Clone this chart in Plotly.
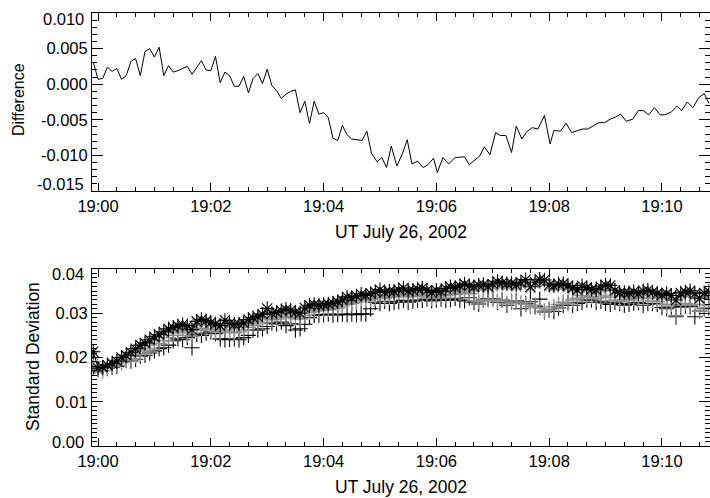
import pandas as pd
import plotly.graph_objects as go

# ---------------- data ----------------
BASE = "2002-07-26 19:00:00"

# top panel: seconds after 19:00 and difference values
DIFF_T = [-5, 0, 5, 10, 15, 20, 25, 30, 35, 40, 45, 50, 55, 60, 65, 70, 75, 80, 85, 90,
          95, 100, 105, 110, 115, 120, 125, 130, 135, 140, 145, 150, 155, 160, 165, 170,
          175, 180, 185, 190, 195, 200, 205, 210, 215, 220, 225, 230, 235, 240, 245, 250,
          255, 260, 265, 270,
          281, 286, 291, 297, 302, 307, 312, 318, 324, 329, 334, 340, 346, 351, 357, 361,
          367, 373, 380, 385, 390, 395, 400, 406, 411, 417, 423, 428, 434, 440, 445, 451,
          456, 462, 468, 475, 481, 485, 492, 498, 504, 509, 515, 521, 527, 533, 539, 545,
          551, 556, 562, 569, 575, 580, 586, 592, 598, 603, 610, 616, 621, 627, 633, 639,
          645, 650]
DIFF = [0.0031, 0.0007, 0.0008, 0.0024, 0.0018, 0.0022, 0.0007, 0.0012, 0.0032, 0.0036,
        0.0012, 0.0046, 0.0050, 0.0038, 0.0052, 0.0012, 0.0026, 0.0017, 0.0019, 0.0022,
        0.0025, 0.0014, 0.0023, 0.0033, 0.0020, 0.0019, 0.0039, 0.0002, 0.0017, 0.0012,
        -0.0003, -0.0003, 0.0011, -0.0012, 0.0008, 0.0015, 0.0001, 0.0021, -0.0002, -0.0009,
        -0.0020, -0.0014, -0.0010, -0.0008, -0.0040, -0.0024, -0.0055, -0.0024, -0.0042, -0.0040,
        -0.0047, -0.0076, -0.0079, -0.0058, -0.0071, -0.0077,
        -0.0079, -0.0066, -0.0097, -0.0109, -0.0103, -0.0117, -0.0087, -0.0115, -0.0097, -0.0078,
        -0.0112, -0.0108, -0.0117, -0.0113, -0.0104, -0.0124, -0.0103, -0.0112, -0.0103, -0.0102,
        -0.0102, -0.0113, -0.0107, -0.0101, -0.0088, -0.0099, -0.0068, -0.0072, -0.0072, -0.0096,
        -0.0059, -0.0077, -0.0067, -0.0061, -0.0063, -0.0044, -0.0084, -0.0065, -0.0066, -0.0055,
        -0.0068, -0.0066, -0.0063, -0.0063, -0.0059, -0.0054, -0.0054, -0.0049, -0.0046, -0.0042,
        -0.0052, -0.0049, -0.0037, -0.0037, -0.0043, -0.0033, -0.0043, -0.0043, -0.0039, -0.0031,
        -0.0037, -0.0025, -0.0033, -0.0019, -0.0013, -0.0027]

# bottom panel: 5 s samples from 18:59:55
STD_T = list(range(-5, 651, 5))
STD_A = [0.0213, 0.0176, 0.0178, 0.0183, 0.0186, 0.0192, 0.0200, 0.0205, 0.0212, 0.0220,
         0.0228, 0.0233, 0.0240, 0.0247, 0.0252, 0.0258, 0.0265, 0.0268, 0.0272, 0.0274,
         0.0272, 0.0263, 0.0282, 0.0286, 0.0283, 0.0279, 0.0276, 0.0272, 0.0284, 0.0277,
         0.0275, 0.0276, 0.0278, 0.0286, 0.0290, 0.0292, 0.0298, 0.0311, 0.0300, 0.0302,
         0.0306, 0.0309, 0.0307, 0.0302, 0.0300, 0.0312, 0.0318, 0.0320, 0.0318, 0.0320,
         0.0321, 0.0323, 0.0326, 0.0330, 0.0337, 0.0335, 0.0339, 0.0343, 0.0340, 0.0345,
         0.0348, 0.0353, 0.0347, 0.0350, 0.0349, 0.0353, 0.0357, 0.0350, 0.0352, 0.0355,
         0.0357, 0.0352, 0.0347, 0.0352, 0.0349, 0.0356, 0.0360, 0.0358, 0.0362, 0.0366,
         0.0362, 0.0360, 0.0364, 0.0365, 0.0361, 0.0366, 0.0372, 0.0369, 0.0367, 0.0368,
         0.0364, 0.0370, 0.0376, 0.0360, 0.0370, 0.0377, 0.0375, 0.0364, 0.0362, 0.0366,
         0.0367, 0.0362, 0.0358, 0.0353, 0.0362, 0.0358, 0.0354, 0.0353, 0.0360, 0.0364,
         0.0363, 0.0352, 0.0346, 0.0347, 0.0346, 0.0349, 0.0344, 0.0351, 0.0352, 0.0348,
         0.0345, 0.0342, 0.0345, 0.0340, 0.0330, 0.0346, 0.0348, 0.0351, 0.0344, 0.0334,
         0.0346, 0.0349]
STD_B = [0.0205, 0.0172, 0.0175, 0.0180, 0.0188, 0.0190, 0.0196, 0.0203, 0.0209, 0.0216,
         0.0222, 0.0230, 0.0236, 0.0242, 0.0249, 0.0255, 0.0261, 0.0266, 0.0268, 0.0270,
         0.0266, 0.0259, 0.0278, 0.0281, 0.0280, 0.0275, 0.0272, 0.0270, 0.0278, 0.0273,
         0.0271, 0.0273, 0.0276, 0.0281, 0.0285, 0.0289, 0.0294, 0.0302, 0.0296, 0.0298,
         0.0302, 0.0304, 0.0303, 0.0299, 0.0297, 0.0306, 0.0313, 0.0316, 0.0315, 0.0317,
         0.0318, 0.0319, 0.0322, 0.0326, 0.0331, 0.0331, 0.0334, 0.0338, 0.0336, 0.0339,
         0.0343, 0.0346, 0.0342, 0.0345, 0.0345, 0.0348, 0.0350, 0.0346, 0.0347, 0.0350,
         0.0351, 0.0347, 0.0343, 0.0347, 0.0345, 0.0351, 0.0354, 0.0353, 0.0357, 0.0360,
         0.0357, 0.0356, 0.0359, 0.0360, 0.0357, 0.0361, 0.0366, 0.0364, 0.0362, 0.0363,
         0.0360, 0.0365, 0.0369, 0.0357, 0.0366, 0.0371, 0.0369, 0.0360, 0.0358, 0.0361,
         0.0362, 0.0358, 0.0354, 0.0350, 0.0357, 0.0354, 0.0350, 0.0349, 0.0355, 0.0359,
         0.0358, 0.0348, 0.0343, 0.0343, 0.0342, 0.0345, 0.0340, 0.0346, 0.0347, 0.0344,
         0.0341, 0.0338, 0.0341, 0.0336, 0.0328, 0.0341, 0.0343, 0.0346, 0.0340, 0.0331,
         0.0341, 0.0344]
STD_C = [0.0190, 0.0172, 0.0170, 0.0176, 0.0180, 0.0183, 0.0188, 0.0193, 0.0196, 0.0203,
         0.0208, 0.0215, 0.0220, 0.0228, 0.0232, 0.0238, 0.0245, 0.0250, 0.0255, 0.0258,
         0.0250, 0.0248, 0.0262, 0.0266, 0.0264, 0.0262, 0.0258, 0.0257, 0.0262, 0.0258,
         0.0256, 0.0258, 0.0262, 0.0268, 0.0272, 0.0276, 0.0280, 0.0288, 0.0285, 0.0287,
         0.0290, 0.0292, 0.0290, 0.0288, 0.0287, 0.0295, 0.0302, 0.0305, 0.0306, 0.0307,
         0.0308, 0.0310, 0.0312, 0.0316, 0.0320, 0.0322, 0.0325, 0.0330, 0.0329, 0.0331,
         0.0334, 0.0336, 0.0333, 0.0336, 0.0337, 0.0339, 0.0341, 0.0337, 0.0338, 0.0341,
         0.0340, 0.0337, 0.0334, 0.0336, 0.0335, 0.0340, 0.0343, 0.0342, 0.0345, 0.0348,
         0.0344, 0.0328, 0.0326, 0.0331, 0.0330, 0.0332, 0.0327, 0.0330, 0.0322, 0.0328,
         0.0325, 0.0323, 0.0320, 0.0315, 0.0318, 0.0312, 0.0305, 0.0308, 0.0315, 0.0320,
         0.0325, 0.0322, 0.0330, 0.0334, 0.0340, 0.0336, 0.0338, 0.0333, 0.0337, 0.0341,
         0.0336, 0.0330, 0.0327, 0.0330, 0.0331, 0.0334, 0.0328, 0.0335, 0.0333, 0.0328,
         0.0326, 0.0320, 0.0316, 0.0320, 0.0295, 0.0318, 0.0322, 0.0318, 0.0320, 0.0305,
         0.0312, 0.0318]
STD_D = [0.0180, 0.0174, 0.0176, 0.0175, 0.0178, 0.0180, 0.0190, 0.0193, 0.0192, 0.0196,
         0.0203, 0.0205, 0.0210, 0.0215, 0.0220, 0.0222, 0.0228, 0.0238, 0.0242, 0.0240,
         0.0245, 0.0222, 0.0252, 0.0250, 0.0255, 0.0258, 0.0254, 0.0242, 0.0240, 0.0241,
         0.0242, 0.0240, 0.0245, 0.0250, 0.0262, 0.0262, 0.0265, 0.0270, 0.0278, 0.0276,
         0.0280, 0.0272, 0.0276, 0.0262, 0.0265, 0.0275, 0.0290, 0.0295, 0.0296, 0.0297,
         0.0298, 0.0296, 0.0297, 0.0298, 0.0297, 0.0298, 0.0297, 0.0299, 0.0298, 0.0310,
         0.0325, 0.0322, 0.0327, 0.0322, 0.0325, 0.0326, 0.0329, 0.0325, 0.0327, 0.0330,
         0.0329, 0.0332, 0.0328, 0.0330, 0.0332, 0.0329, 0.0331, 0.0334, 0.0330, 0.0328,
         0.0335, 0.0325, 0.0321, 0.0330, 0.0333, 0.0333, 0.0325, 0.0330, 0.0318, 0.0326,
         0.0328, 0.0310, 0.0322, 0.0326, 0.0315, 0.0332, 0.0303, 0.0308, 0.0304, 0.0312,
         0.0318, 0.0324, 0.0318, 0.0322, 0.0325, 0.0330, 0.0330, 0.0325, 0.0327, 0.0323,
         0.0320, 0.0325, 0.0322, 0.0318, 0.0320, 0.0323, 0.0324, 0.0318, 0.0322, 0.0322,
         0.0320, 0.0313, 0.0310, 0.0314, 0.0292, 0.0314, 0.0316, 0.0315, 0.0292, 0.0305,
         0.0310, 0.0312]

X_TICK_SEC = [0, 120, 240, 360, 480, 600]
X_TICK_TEXT = ["19:00", "19:02", "19:04", "19:06", "19:08", "19:10"]
X_RANGE_SEC = [-6.4, 650.6]
DIFF_TICKS = [0.010, 0.005, 0.000, -0.005, -0.010, -0.015]
DIFF_TICK_TEXT = ["0.010", "0.005", "0.000", "-0.005", "-0.010", "-0.015"]
STD_TICKS = [0.00, 0.01, 0.02, 0.03, 0.04]
STD_TICK_TEXT = ["0.00", "0.01", "0.02", "0.03", "0.04"]

XTITLE = "UT July 26, 2002"

# ---------------- figure ----------------
base = pd.Timestamp(BASE)
def tt(secs):
    return [base + pd.Timedelta(seconds=s) for s in secs]

FONT = "Liberation Sans, Arial, Helvetica, sans-serif"
GRAY = "#8c8c8c"
TICKSIZE = 16.5

fig = go.Figure()
fig.add_trace(go.Scatter(x=tt(DIFF_T), y=DIFF, mode="lines",
                         line=dict(color="black", width=1), xaxis="x", yaxis="y"))

fig.add_trace(go.Scatter(x=tt(STD_T), y=STD_D, mode="markers",
                         marker=dict(symbol="cross-thin-open", size=11, color="black",
                                     line=dict(color="black", width=1.1)),
                         xaxis="x2", yaxis="y2"))
fig.add_trace(go.Scatter(x=tt(STD_T), y=STD_C, mode="markers",
                         marker=dict(symbol="cross-thin-open", size=11, color=GRAY,
                                     line=dict(color=GRAY, width=1.4)),
                         xaxis="x2", yaxis="y2"))
fig.add_trace(go.Scatter(x=tt(STD_T), y=STD_B, mode="markers",
                         marker=dict(symbol="x-thin-open", size=10, color=GRAY,
                                     line=dict(color=GRAY, width=1.4)),
                         xaxis="x2", yaxis="y2"))
fig.add_trace(go.Scatter(x=tt(STD_T), y=STD_A, mode="lines+markers",
                         line=dict(color="black", width=1),
                         marker=dict(symbol="asterisk-open", size=12, color="black",
                                     line=dict(color="black", width=1.1)),
                         xaxis="x2", yaxis="y2"))

W, H = 710, 498
xdom = [92 / W, 709.5 / W]
top_dom = [1 - 191 / H, 1 - 13 / H]
bot_dom = [1 - 446 / H, 1 - 269 / H]

xr = [tt([X_RANGE_SEC[0]])[0], tt([X_RANGE_SEC[1]])[0]]
common_x = dict(range=xr, type="date", tickvals=tt(X_TICK_SEC), ticktext=X_TICK_TEXT,
                ticks="inside", ticklen=8, tickcolor="black", showline=True,
                linecolor="black", linewidth=1, mirror="ticks", showgrid=False,
                zeroline=False, automargin=False,
                tickfont=dict(family=FONT, size=TICKSIZE, color="black"),
                minor=dict(dtick=20000, ticks="inside", ticklen=4, tickcolor="black",
                           showgrid=False),
                domain=xdom)
common_y = dict(ticks="inside", ticklen=11, tickcolor="black", showline=True,
                linecolor="black", linewidth=1, mirror="ticks", showgrid=False,
                zeroline=False, automargin=False,
                tickfont=dict(family=FONT, size=TICKSIZE, color="black"))

# end tick labels are nudged inside the frame (as in the original)
diff_text = [""] + DIFF_TICK_TEXT[1:-1] + [""]
std_text = [""] + STD_TICK_TEXT[1:-1] + [""]

def end_label(text, yval, yref, shift):
    return dict(text=text, x=0, xref="paper", y=yval, yref=yref, xanchor="right",
                yanchor="middle", xshift=86, yshift=shift, showarrow=False,
                font=dict(family=FONT, size=TICKSIZE, color="black"))

fig.update_layout(
    template="none",
    width=W, height=H, margin=dict(l=0, r=0, t=0, b=0, autoexpand=False),
    paper_bgcolor="white", plot_bgcolor="white", showlegend=False,
    font=dict(family=FONT, size=16, color="black"),
    xaxis=dict(**common_x, anchor="y"),
    xaxis2=dict(**common_x, anchor="y2"),
    yaxis=dict(**common_y, domain=top_dom, range=[-0.015, 0.010],
               tickvals=DIFF_TICKS, ticktext=diff_text, anchor="x",
               minor=dict(dtick=0.001, tick0=0, ticks="inside", ticklen=5,
                          tickcolor="black", showgrid=False)),
    yaxis2=dict(**common_y, domain=bot_dom, range=[0, 0.04],
                tickvals=STD_TICKS, ticktext=std_text, anchor="x2",
                minor=dict(dtick=0.001, tick0=0, ticks="inside", ticklen=5,
                           tickcolor="black", showgrid=False)),
    annotations=[
        end_label(DIFF_TICK_TEXT[0], DIFF_TICKS[0], "y", -6),
        end_label(DIFF_TICK_TEXT[-1], DIFF_TICKS[-1], "y", 7),
        end_label(STD_TICK_TEXT[0], STD_TICKS[0], "y2", 4),
        end_label(STD_TICK_TEXT[-1], STD_TICKS[-1], "y2", -5),
        dict(text=XTITLE, x=(xdom[0] + xdom[1]) / 2, y=1 - 232 / H, xref="paper",
             yref="paper", showarrow=False, font=dict(family=FONT, size=17.5),
             xanchor="center", yanchor="middle"),
        dict(text=XTITLE, x=(xdom[0] + xdom[1]) / 2, y=1 - 487 / H, xref="paper",
             yref="paper", showarrow=False, font=dict(family=FONT, size=17.5),
             xanchor="center", yanchor="middle"),
        dict(text="Difference", x=18 / W, y=1 - 100 / H, xref="paper", yref="paper",
             showarrow=False, textangle=-90, font=dict(family=FONT, size=16),
             xanchor="center", yanchor="middle"),
        dict(text="Standard Deviation", x=33 / W, y=1 - 357 / H, xref="paper",
             yref="paper", showarrow=False, textangle=-90,
             font=dict(family=FONT, size=17.5), xanchor="center", yanchor="middle"),
    ],
)

fig.write_html("out.html")
